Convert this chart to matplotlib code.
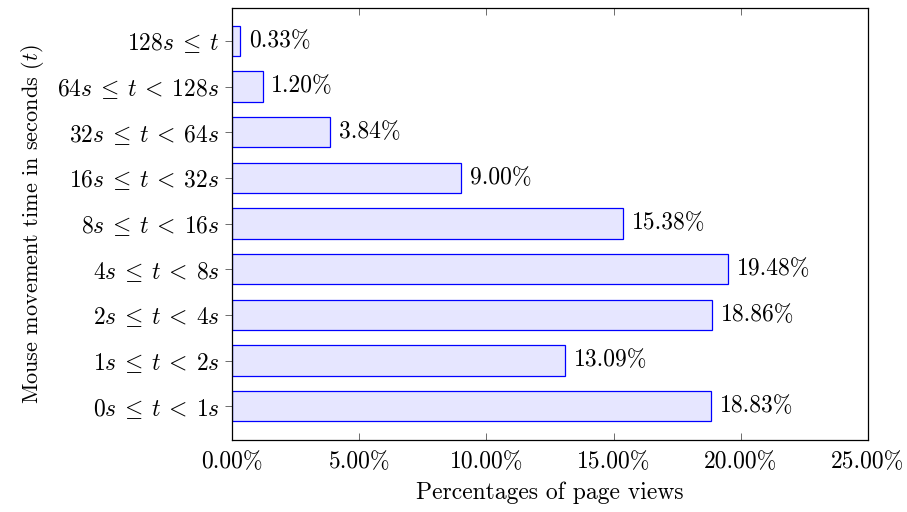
import numpy as np
import matplotlib
matplotlib.use("Agg")
import matplotlib.pyplot as plt

plt.rcParams['font.family'] = 'serif'
plt.rcParams['font.serif'] = ['cmr10']
plt.rcParams['mathtext.fontset'] = 'cm'
plt.rcParams['axes.unicode_minus'] = False

labels = [r"$0s \:\leq\: t \:<\: 1s$", r"$1s \:\leq\: t \:<\: 2s$", r"$2s \:\leq\: t \:<\: 4s$",
          r"$4s \:\leq\: t \:<\: 8s$", r"$8s \:\leq\: t \:<\: 16s$", r"$16s \:\leq\: t \:<\: 32s$",
          r"$32s \:\leq\: t \:<\: 64s$", r"$64s \:\leq\: t \:<\: 128s$", r"$128s \:\leq\: t$"]
values = [18.83, 13.09, 18.86, 19.48, 15.38, 9.00, 3.84, 1.20, 0.33]
xticks = [0, 5, 10, 15, 20, 25]

fs = 17

fig = plt.figure(figsize=(9.07, 5.12), dpi=100)
ax = fig.add_axes([232/907, 1-440/512, 636/907, 432/512])

y = np.arange(len(values))
ax.barh(y, values, height=0.66, color=(230/255, 230/255, 1.0), edgecolor=(0, 0, 1.0), linewidth=0.9)
for yi, v in zip(y, values):
    ax.text(v + 0.35, yi, "%.2f%%" % v, va='center', ha='left', fontsize=fs)

ax.set_xlim(0, 25)
ax.set_ylim(-0.74, 8.72)
ax.set_yticks(y)
ax.set_yticklabels(labels, fontsize=fs)
ax.set_xticks(xticks)
ax.set_xticklabels(["%.2f%%" % t for t in xticks], fontsize=fs)
ax.tick_params(axis='x', direction='in', top=True, length=5, width=0.6, color='#555555', pad=8)
ax.tick_params(axis='y', direction='out', length=5, width=0.6, color='#555555', pad=4)
for s in ax.spines.values():
    s.set_linewidth(0.9)
ax.set_xlabel("Percentages of page views", fontsize=fs, labelpad=6)
ax.set_ylabel(r"Mouse movement time in seconds ($t$)", fontsize=16, labelpad=8)

fig.savefig("out.png", dpi=100)
